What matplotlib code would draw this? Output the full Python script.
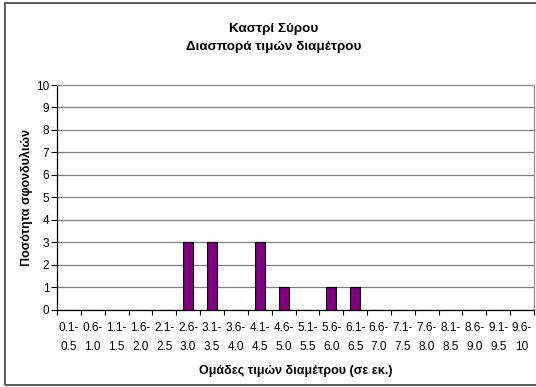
import matplotlib
matplotlib.use("Agg")
import matplotlib.pyplot as plt
from matplotlib.patches import Rectangle

plt.rcParams['font.family'] = ['Liberation Sans', 'DejaVu Sans']

# diameter groups (cm) and counts
lower = ["0.1", "0.6", "1.1", "1.6", "2.1", "2.6", "3.1", "3.6", "4.1", "4.6",
         "5.1", "5.6", "6.1", "6.6", "7.1", "7.6", "8.1", "8.6", "9.1", "9.6"]
upper = ["0.5", "1.0", "1.5", "2.0", "2.5", "3.0", "3.5", "4.0", "4.5", "5.0",
         "5.5", "6.0", "6.5", "7.0", "7.5", "8.0", "8.5", "9.0", "9.5", "10"]
counts = [0, 0, 0, 0, 0, 3, 3, 0, 3, 1, 0, 1, 1, 0, 0, 0, 0, 0, 0, 0]

labels = [f"{a}-\n{b}" for a, b in zip(lower, upper)]

W, H = 536, 387
fig = plt.figure(figsize=(W / 100, H / 100), dpi=100)
# outer chart frame (right side runs off the image)
fig.patches.append(Rectangle((4.5 / W, 1 - 384.5 / H), 0.999, 381.5 / H, transform=fig.transFigure,
                             fill=False, edgecolor="#404040", linewidth=1.2))

ax = fig.add_axes([57 / W, 1 - 309.5 / H, 477 / W, 224.5 / H])
x = range(len(counts))
ax.bar(x, counts, width=0.42, color="#800080", edgecolor="black", linewidth=0.8, zorder=3)

ax.set_xlim(-0.5, len(counts) - 0.5)
ax.set_ylim(0, 10)
ax.set_yticks(range(0, 11))
ax.tick_params(axis="y", labelsize=8.5, length=4, width=0.8, pad=1.5)
ax.set_xticks(x)
ax.set_xticklabels(labels, fontsize=8.5, linespacing=1.75)
ax.tick_params(axis="x", length=0, pad=9)
ax.set_xticks([i - 0.5 for i in range(len(counts) + 1)], minor=True)
ax.tick_params(axis="x", which="minor", length=3.5, width=0.8)

ax.grid(axis="y", color="#808080", linewidth=0.9, zorder=0)
for s in ["top", "right"]:
    ax.spines[s].set_color("#909090")
    ax.spines[s].set_linewidth(0.9)
ax.spines["left"].set_linewidth(0.9)
ax.spines["bottom"].set_linewidth(0.9)

ax.set_xlabel("Ομάδες τιμών διαμέτρου (σε εκ.)", fontsize=9, fontweight="bold", labelpad=9)
ax.set_ylabel("Ποσότητα σφονδυλιών", fontsize=9, fontweight="bold", labelpad=2)

fig.text(274 / W, 1 - 29 / H, "Καστρί Σύρου", ha="center", va="center", fontsize=9.7, fontweight="bold")
fig.text(274 / W, 1 - 47 / H, "Διασπορά τιμών διαμέτρου", ha="center", va="center", fontsize=9.7, fontweight="bold")

fig.savefig("out.png", dpi=100)
